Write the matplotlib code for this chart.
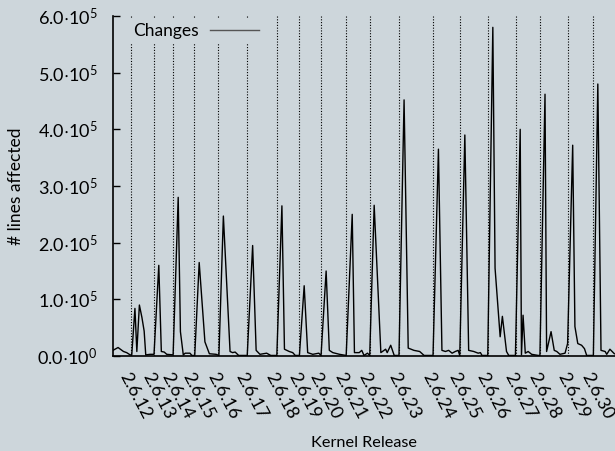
import matplotlib.pyplot as plt
import matplotlib.ticker as ticker
import numpy as np
import pandas as pd

plt.rc('font', family=['Lato', 'DejaVu Sans'], size=12)
plt.rc('mathtext', fontset='custom', rm='Lato', it='Lato:italic', bf='Lato:bold')

bg = '#cdd6db'

# kernel releases
releases = ['2.6.12', '2.6.13', '2.6.14', '2.6.15', '2.6.16', '2.6.17',
            '2.6.18', '2.6.19', '2.6.20', '2.6.21', '2.6.22', '2.6.23',
            '2.6.24', '2.6.25', '2.6.26', '2.6.27', '2.6.28', '2.6.29',
            '2.6.30']
release_dates = ['2005-06-17', '2005-08-28', '2005-10-27', '2006-01-02',
                 '2006-03-19', '2006-06-17', '2006-09-19', '2006-11-29',
                 '2007-02-04', '2007-04-25', '2007-07-08', '2007-10-09',
                 '2008-01-24', '2008-04-16', '2008-07-13', '2008-10-09',
                 '2008-12-24', '2009-03-23', '2009-06-09']

# changes, days after 2.6.12 release
days = [-56, -40, -23, -13, -2, 3, 13, 19, 27, 35, 42, 47, 61, 73, 88, 96,
        105, 113, 133, 149, 156, 165, 171, 186, 192, 201, 215, 233, 247,
        268, 277, 291, 312, 320, 328, 339, 366, 383, 394, 406, 427, 440,
        459, 475, 483, 498, 509, 517, 530, 545, 556, 572, 591, 598, 614,
        624, 635, 656, 677, 696, 703, 718, 726, 733, 744, 751, 765, 786,
        801, 806, 817, 828, 843, 859, 872, 890, 908, 922, 950, 967, 978,
        989, 999, 1010, 1020, 1029, 1034, 1050, 1062, 1078, 1092, 1099,
        1104, 1122, 1138, 1145, 1153, 1161, 1168, 1181, 1188, 1209, 1224,
        1228, 1233, 1240, 1249, 1260, 1281, 1286, 1302, 1307, 1321, 1331,
        1339, 1349, 1365, 1373, 1389, 1396, 1405, 1417, 1426, 1433, 1454,
        1468, 1478, 1491, 1496, 1506, 1520]
changes = [10000, 15000, 8000, 6000, 2000, 2000, 84000, 8000, 90000, 68000,
           44000, 2000, 3000, 3000, 160000, 8000, 7000, 3000, 2000, 280000,
           43000, 2000, 5000, 5000, 1000, 1000, 165000, 25000, 4000, 3000,
           1000, 247000, 8000, 6000, 7000, 1000, 1000, 195000, 10000, 3000,
           5000, 1000, 1000, 265000, 12000, 8000, 6000, 1000, 1000, 124000,
           6000, 3000, 5000, 1000, 150000, 10000, 6000, 3000, 1000, 250000,
           6000, 6000, 10000, 1000, 5000, 1000, 266000, 6000, 12000, 6000,
           19000, 1000, 1000, 452000, 14000, 10000, 8000, 1000, 1000,
           365000, 10000, 8000, 10000, 5000, 8000, 10000, 1000, 390000,
           10000, 8000, 5000, 6000, 1000, 1000, 580000, 155000, 95000,
           34000, 70000, 8000, 1000, 1000, 400000, 2000, 72000, 5000, 8000,
           3000, 1000, 1000, 462000, 8000, 43000, 10000, 8000, 3000, 5000,
           22000, 372000, 52000, 22000, 19000, 13000, 1000, 1000, 480000,
           10000, 8000, 3000, 12000, 4000]

t0 = pd.Timestamp(release_dates[0])
rel_days = [(pd.Timestamp(d) - t0).days for d in release_dates]


def sci(v, pos):
    if v == 0:
        return r'$\mathregular{0.0{\cdot}10^{0}}$'
    e = int(np.floor(np.log10(abs(v))))
    return r'$\mathregular{%.1f{\cdot}10^{%d}}$' % (v / 10**e, e)


fig = plt.figure(figsize=(6.15, 4.51), dpi=100, facecolor=bg)
ax = fig.add_axes([0.1837, 0.2106, 0.8163, 0.7539], facecolor=bg)

for d in rel_days:
    ax.axvline(d, color='k', lw=0.8, linestyle=(0, (1, 1.5)), zorder=1)
ax.plot(days, changes, color='k', lw=1.0, label='Changes', zorder=2)

ax.set_xlim(-56, 1522)
ax.set_ylim(0, 6e5)
ax.yaxis.set_major_locator(ticker.MultipleLocator(1e5))
ax.yaxis.set_major_formatter(ticker.FuncFormatter(sci))
ax.set_xticks(rel_days)
ax.set_xticklabels(releases, rotation=-62, ha='left', va='top',
                   rotation_mode='anchor', fontsize=13)
ax.tick_params(axis='x', length=0, pad=10)
ax.tick_params(axis='y', direction='in', length=5, width=1, pad=11,
               labelsize=13)

ax.spines['top'].set_visible(False)
ax.spines['right'].set_visible(False)
ax.spines['left'].set_linewidth(1.2)
ax.spines['bottom'].set_linewidth(1.2)

ax.set_ylabel('# lines affected', fontsize=12.5, labelpad=10)
ax.set_xlabel('Kernel Release', fontsize=11.7, labelpad=10)

leg = ax.legend(loc='center left', bbox_to_anchor=(0.03, 0.956),
                borderaxespad=0, markerfirst=False,
                frameon=True, facecolor=bg, edgecolor='none', framealpha=1,
                handlelength=2.8, handletextpad=0.65, borderpad=0.3,
                fontsize=12.5)
leg.get_lines()[0].set_color('#555555')

fig.savefig('out.png', dpi=100, facecolor=bg)
